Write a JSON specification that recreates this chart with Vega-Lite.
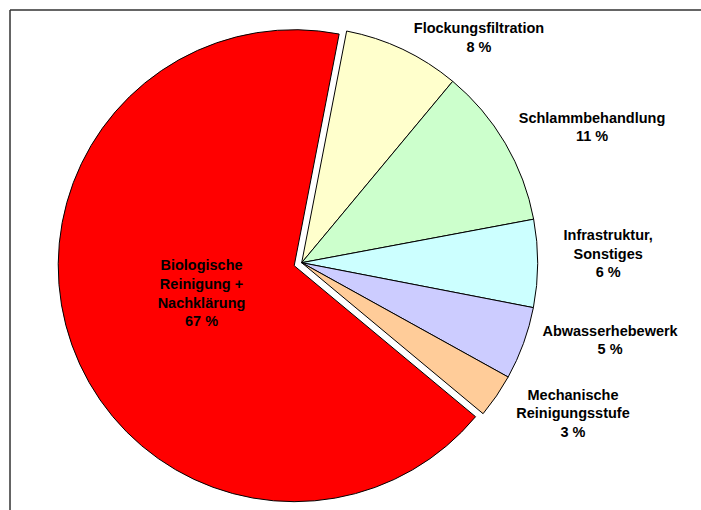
{
  "$schema": "https://vega.github.io/schema/vega-lite/v6.json",
  "width": 691,
  "height": 505.4,
  "autosize": "none",
  "padding": {"left": 10, "top": 10, "right": 0, "bottom": 0},
  "background": "white",
  "view": {"stroke": "#333333", "strokeWidth": 1.5, "strokeDash": [691, 1196.4, 505.4]},
  "config": {
    "view": {"stroke": "#333333", "strokeWidth": 1.5, "strokeDash": [691, 1196.4, 505.4]},
    "text": {"font": "Liberation Sans", "fontSize": 14.5, "fontWeight": "bold", "fill": "black", "lineBreak": "\n", "lineHeight": 18.7, "align": "center", "baseline": "middle"}
  },
  "data": {
    "values": [
      {"rank": 1, "category": "Flockungsfiltration", "value": 8, "label": "Flockungsfiltration\n8 %"},
      {"rank": 2, "category": "Schlammbehandlung", "value": 11, "label": "Schlammbehandlung\n11 %"},
      {"rank": 3, "category": "Infrastruktur, Sonstiges", "value": 6, "label": "Infrastruktur,\nSonstiges\n6 %"},
      {"rank": 4, "category": "Abwasserhebewerk", "value": 5, "label": "Abwasserhebewerk\n5 %"},
      {"rank": 5, "category": "Mechanische Reinigungsstufe", "value": 3, "label": "Mechanische\nReinigungsstufe\n3 %"},
      {"rank": 6, "category": "Biologische Reinigung + Nachklärung", "value": 67, "label": "Biologische\nReinigung +\nNachklärung\n67 %"}
    ]
  },
  "encoding": {
    "theta": {"field": "value", "type": "quantitative", "stack": true, "scale": {"range": [0.1916, 6.4748]}},
    "order": {"field": "rank", "type": "quantitative"}
  },
  "layer": [
    {
      "mark": {"type": "arc", "radius": 236, "stroke": "black", "strokeWidth": 1, "xOffset": -53.8},
      "encoding": {
        "color": {"field": "category", "type": "nominal", "legend": null,
          "scale": {"domain": ["Flockungsfiltration", "Schlammbehandlung", "Infrastruktur, Sonstiges", "Abwasserhebewerk", "Mechanische Reinigungsstufe", "Biologische Reinigung + Nachklärung"],
                    "range": ["#FFFFCC", "#CCFFCC", "#CCFFFF", "#CCCCFF", "#FFCC99", "#FF0000"]}},
        "opacity": {"condition": {"test": "datum.rank === 6", "value": 0}, "value": 1}
      }
    },
    {
      "mark": {"type": "arc", "radius": 236, "stroke": "black", "strokeWidth": 1, "xOffset": -61.3, "yOffset": 3},
      "encoding": {
        "color": {"field": "category", "type": "nominal", "legend": null},
        "opacity": {"condition": {"test": "datum.rank === 6", "value": 1}, "value": 0}
      }
    },
    {
      "mark": {"type": "text", "radius": 300, "dx": -5.1, "dy": 37.6},
      "encoding": {"text": {"condition": {"test": "datum.rank === 1", "field": "label"}, "value": ""}}
    },
    {
      "mark": {"type": "text", "radius": 300, "dx": -22.2, "dy": 8},
      "encoding": {"text": {"condition": {"test": "datum.rank === 2", "field": "label"}, "value": ""}}
    },
    {
      "mark": {"type": "text", "radius": 300, "dx": -47.3, "dy": -27.6},
      "encoding": {"text": {"condition": {"test": "datum.rank === 3", "field": "label"}, "value": ""}}
    },
    {
      "mark": {"type": "text", "radius": 300, "dx": -27.4, "dy": -33.5},
      "encoding": {"text": {"condition": {"test": "datum.rank === 4", "field": "label"}, "value": ""}}
    },
    {
      "mark": {"type": "text", "radius": 300, "dx": -30.1, "dy": -36, "lineHeight": 18.3},
      "encoding": {"text": {"condition": {"test": "datum.rank === 5", "field": "label"}, "value": ""}}
    },
    {
      "mark": {"type": "text", "radius": 100, "dx": -59.8, "dy": -30},
      "encoding": {"text": {"condition": {"test": "datum.rank === 6", "field": "label"}, "value": ""}}
    }
  ]
}
